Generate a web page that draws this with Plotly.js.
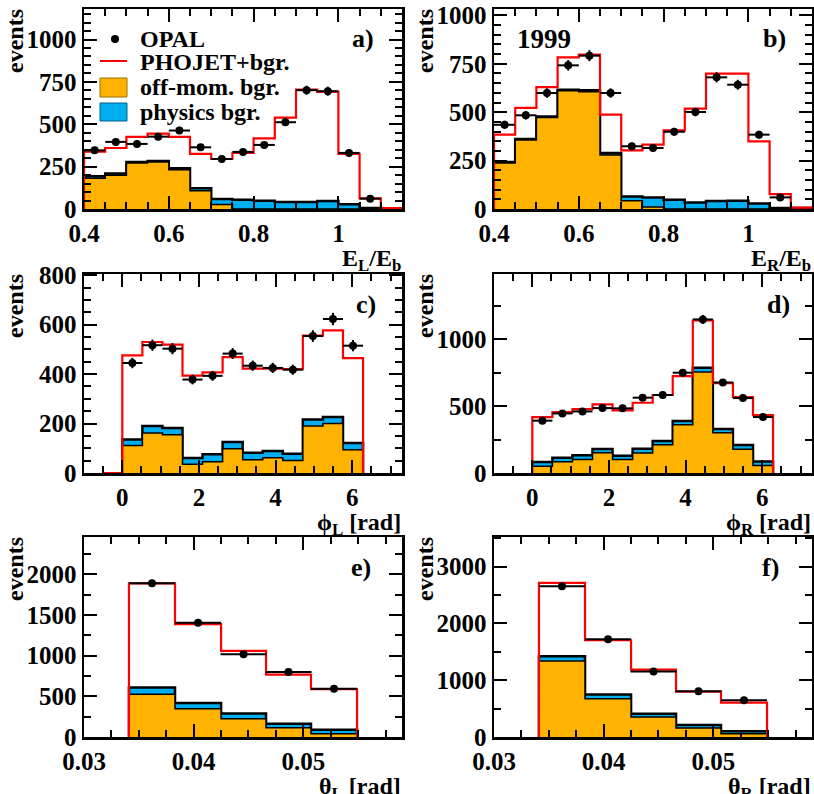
<!DOCTYPE html>
<html>
<head>
<meta charset="utf-8">
<script src="https://cdn.plot.ly/plotly-3.0.1.min.js"></script>
<style>
  body { margin: 0; background: #fff; }
  #myDiv { width: 814px; height: 794px; }
</style>
</head>
<body>
<div id="myDiv"></div>
<script>
// bin edges
var energyEdges = [0.40, 0.45, 0.50, 0.55, 0.60, 0.65, 0.70, 0.75, 0.80, 0.85, 0.90, 0.95, 1.00, 1.05, 1.10, 1.15];
var phiEdges = [0, 0.524, 1.047, 1.571, 2.094, 2.618, 3.142, 3.665, 4.189, 4.712, 5.236, 5.760, 6.283];
var thetaEdges = [0.0341, 0.0383, 0.0425, 0.0466, 0.0507, 0.0549];

// a) E_L / E_b
var aOpal    = [346, 396, 384, 427, 463, 364, 295, 337, 378, 512, 701, 695, 331, 61, null];
var aPhojet  = [339, 360, 425, 445, 425, 325, 295, 331, 417, 539, 705, 691, 325, 63, 6];
var aOffmom  = [181, 199, 272, 278, 232, 108, 26, 0, 0, 0, 0, 0, 0, 0, 0];
var aPhysics = [12, 10, 6, 5, 8, 14, 33, 55, 49, 41, 41, 47, 28, 6, 0];

// b) E_R / E_b
var bOpal    = [435, 484, 599, 742, 792, 599, 324, 315, 399, 501, 680, 642, 384, 60, null];
var bPhojet  = [384, 522, 630, 783, 797, 487, 303, 332, 406, 518, 699, 699, 349, 77, 7];
var bOffmom  = [238, 356, 473, 611, 606, 279, 43, 10, 0, 0, 0, 0, 0, 0, 0];
var bPhysics = [5, 5, 5, 5, 7, 10, 22, 50, 48, 34, 41, 43, 28, 5, 5];

// c) phi_L
var cOpal    = [445, 517, 503, 378, 393, 483, 434, 425, 418, 554, 623, 515];
var cPhojet  = [476, 530, 519, 394, 407, 469, 422, 422, 420, 556, 577, 465];
var cOffmom  = [111, 162, 155, 35, 46, 98, 54, 62, 51, 190, 200, 94];
var cPhysics = [25, 28, 27, 26, 30, 27, 28, 27, 27, 26, 27, 27];

// d) phi_R
var dOpal    = [392, 446, 461, 486, 484, 564, 584, 751, 1150, 678, 561, 419];
var dPhojet  = [419, 456, 479, 514, 469, 526, 584, 726, 1142, 673, 569, 434];
var dOffmom  = [50, 85, 102, 152, 102, 150, 212, 362, 756, 302, 177, 57];
var dPhysics = [32, 30, 30, 28, 28, 32, 27, 27, 32, 27, 32, 30];

// e) theta_L
var eOpal    = [1890, 1405, 1019, 801, 592];
var ePhojet  = [1890, 1389, 1060, 768, 588];
var eOffmom  = [526, 349, 226, 115, 41];
var ePhysics = [82, 70, 62, 49, 49];

// f) theta_R
var fOpal    = [2654, 1721, 1151, 804, 646];
var fPhojet  = [2713, 1703, 1186, 799, 605];
var fOffmom  = [1339, 675, 352, 159, 59];
var fPhysics = [82, 71, 59, 52, 41];

var ORANGE = '#ffb300';
var BLUE = '#00aeef';
var FONT = "'Liberation Serif', 'Times New Roman', Times, serif";
var W = 814, H = 794;
function px(x) { return x / W; }
function py(y) { return 1 - y / H; }

function steps(edges, vals) {
  var x = [edges[0]], y = [0];
  for (var i = 0; i < vals.length; i++) { x.push(edges[i]); y.push(vals[i]); }
  x.push(edges[vals.length]); y.push(vals[vals.length - 1]);
  x.push(edges[vals.length]); y.push(0);
  return {x: x, y: y};
}
function centers(edges) {
  var c = [];
  for (var i = 0; i < edges.length - 1; i++) c.push((edges[i] + edges[i + 1]) / 2);
  return c;
}

var panels = [
  {edges: energyEdges, opal: aOpal, phojet: aPhojet, off: aOffmom, phys: aPhysics,
   xd: [84, 402], yd: [9, 209], xr: [0.4, 1.15], yr: [0, 1180], xdt: 0.2, xmn: 0.05, ydt: 250, ymn: 50,
   xt: 'E<sub>L</sub>/E<sub>b</sub>', tag: 'a)', tagx: 376},
  {edges: energyEdges, opal: bOpal, phojet: bPhojet, off: bOffmom, phys: bPhysics,
   xd: [494, 812], yd: [9, 209], xr: [0.4, 1.15], yr: [0, 1033], xdt: 0.2, xmn: 0.05, ydt: 250, ymn: 50,
   xt: 'E<sub>R</sub>/E<sub>b</sub>', tag: 'b)', tagx: 788},
  {edges: phiEdges, opal: cOpal, phojet: cPhojet, off: cOffmom, phys: cPhysics, under: true,
   xd: [84, 402], yd: [274, 473], xr: [-1, 7.3], yr: [0, 805], xdt: 2, xmn: 0.5, ydt: 200, ymn: 50,
   xt: '\u03d5<sub>L</sub> [rad]', tag: 'c)', tagx: 378},
  {edges: phiEdges, opal: dOpal, phojet: dPhojet, off: dOffmom, phys: dPhysics,
   xd: [494, 812], yd: [274, 473], xr: [-1, 7.3], yr: [0, 1490], xdt: 2, xmn: 0.5, ydt: 500, ymn: 250,
   xt: '\u03d5<sub>R</sub> [rad]', tag: 'd)', tagx: 792},
  {edges: thetaEdges, opal: eOpal, phojet: ePhojet, off: eOffmom, phys: ePhysics,
   xd: [84, 402], yd: [537, 737], xr: [0.03, 0.059], yr: [0, 2460], xdt: 0.01, xmn: 0.0025, ydt: 500, ymn: 250,
   xt: '\u03b8<sub>L</sub> [rad]', tag: 'e)', tagx: 373},
  {edges: thetaEdges, opal: fOpal, phojet: fPhojet, off: fOffmom, phys: fPhysics,
   xd: [494, 812], yd: [537, 737], xr: [0.03, 0.059], yr: [0, 3520], xdt: 0.01, xmn: 0.0025, ydt: 1000, ymn: 500,
   xt: '\u03b8<sub>R</sub> [rad]', tag: 'f)', tagx: 781}
];

var data = [];
var layout = {
  width: W, height: H,
  margin: {l: 0, r: 0, t: 0, b: 0},
  showlegend: false,
  paper_bgcolor: '#fff', plot_bgcolor: '#fff',
  font: {family: FONT, size: 24, color: '#000', weight: 'bold'},
  annotations: [],
  shapes: []
};

panels.forEach(function (p, i) {
  var n = i === 0 ? '' : String(i + 1);
  var xa = 'x' + n, ya = 'y' + n;

  var total = p.off.map(function (v, k) { return v + p.phys[k]; });
  var st = steps(p.edges, total);
  var so = steps(p.edges, p.off);
  var redEdges = p.under ? [-0.524].concat(p.edges) : p.edges;
  var redVals = p.under ? [0].concat(p.phojet) : p.phojet;
  var sr = steps(redEdges, redVals);
  var half = (p.edges[1] - p.edges[0]) / 2;

  data.push({x: st.x, y: st.y, xaxis: xa, yaxis: ya, type: 'scatter', mode: 'lines',
    line: {shape: 'hv', color: '#000', width: 2.5}, fill: 'tozeroy', fillcolor: BLUE});
  data.push({x: so.x, y: so.y, xaxis: xa, yaxis: ya, type: 'scatter', mode: 'lines',
    line: {shape: 'hv', color: '#000', width: 1.5}, fill: 'tozeroy', fillcolor: ORANGE});
  data.push({x: sr.x, y: sr.y, xaxis: xa, yaxis: ya, type: 'scatter', mode: 'lines',
    line: {shape: 'hv', color: '#ff0000', width: 2.2}});
  data.push({x: centers(p.edges), y: p.opal, xaxis: xa, yaxis: ya, type: 'scatter', mode: 'markers',
    marker: {color: '#000', size: 8},
    error_x: {type: 'constant', value: half, thickness: 2, width: 0, color: '#000'},
    error_y: {type: 'sqrt', thickness: 2, width: 0, color: '#000'}});

  var axisBase = {showline: true, linecolor: '#000', linewidth: 2.5, mirror: 'ticks',
    ticks: 'inside', ticklen: 13, tickwidth: 2, tickcolor: '#000',
    showgrid: false, zeroline: false, tickfont: {family: FONT, size: 25, weight: 'bold'}};

  layout['xaxis' + n] = Object.assign({}, axisBase, {
    domain: [px(p.xd[0]), px(p.xd[1])], anchor: ya, range: p.xr,
    tick0: 0, dtick: p.xdt, minor: {ticks: 'inside', ticklen: 7, tickwidth: 2, dtick: p.xmn, tick0: 0}});
  layout['yaxis' + n] = Object.assign({}, axisBase, {
    domain: [py(p.yd[1]), py(p.yd[0])], anchor: xa, range: p.yr,
    tick0: 0, dtick: p.ydt, minor: {ticks: 'inside', ticklen: 7, tickwidth: 2, dtick: p.ymn, tick0: 0}});

  layout.annotations.push({text: p.xt, xref: 'paper', yref: 'paper', x: px(p.xd[1] + 1), y: py(p.yd[1] + 34),
    xanchor: 'right', yanchor: 'top', showarrow: false, font: {size: 24}});
  layout.annotations.push({text: 'events', xref: 'paper', yref: 'paper', x: px(p.xd[0] - 69), y: py(p.yd[0] - 2),
    xanchor: 'center', yanchor: 'top', textangle: -90, showarrow: false, font: {size: 24}});
  layout.annotations.push({text: p.tag, xref: 'paper', yref: 'paper', x: px(p.tagx), y: py(p.yd[0] + 30),
    xanchor: 'right', yanchor: 'middle', showarrow: false, font: {size: 26}});
});

layout.annotations.push({text: '1999', xref: 'paper', yref: 'paper', x: px(515), y: py(39),
  xanchor: 'left', yanchor: 'middle', showarrow: false, font: {size: 27}});

// legend of panel a
var legendRows = [
  {label: 'OPAL', y: 39},
  {label: 'PHOJET+bgr.', y: 62},
  {label: 'off-mom. bgr.', y: 87},
  {label: 'physics bgr.', y: 112}
];
legendRows.forEach(function (r) {
  layout.annotations.push({text: r.label, xref: 'paper', yref: 'paper', x: px(138), y: py(r.y),
    xanchor: 'left', yanchor: 'middle', showarrow: false, font: {size: 24}});
});
layout.shapes.push({type: 'circle', xref: 'paper', yref: 'paper', x0: px(111), x1: px(119), y0: py(43), y1: py(35),
  fillcolor: '#000', line: {width: 0}});
layout.shapes.push({type: 'line', xref: 'paper', yref: 'paper', x0: px(100), x1: px(127), y0: py(61), y1: py(61),
  line: {color: '#ff0000', width: 2}});
layout.shapes.push({type: 'rect', xref: 'paper', yref: 'paper', x0: px(100), x1: px(127), y0: py(97), y1: py(78),
  fillcolor: ORANGE, line: {color: '#9a7000', width: 1}});
layout.shapes.push({type: 'rect', xref: 'paper', yref: 'paper', x0: px(100), x1: px(127), y0: py(121), y1: py(103),
  fillcolor: BLUE, line: {color: '#00628a', width: 1}});

Plotly.newPlot('myDiv', data, layout, {staticPlot: true});
</script>
</body>
</html>
